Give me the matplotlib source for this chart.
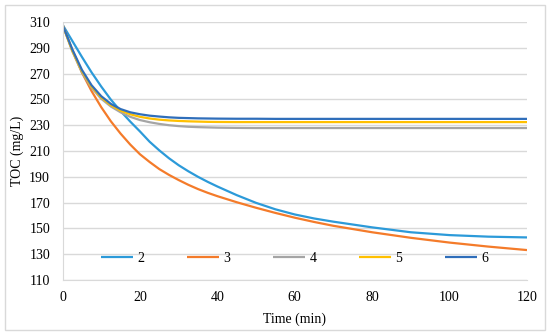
import matplotlib
matplotlib.use("Agg")
import matplotlib.pyplot as plt
from matplotlib.patches import Rectangle

plt.rcParams['font.family'] = ['Liberation Serif', 'DejaVu Serif']

time = [0, 2.5, 5, 7.5, 10, 12.5, 15, 17.5, 20, 22.5, 25, 27.5, 30, 32.5, 35, 37.5, 40,
        45, 50, 55, 60, 65, 70, 80, 90, 100, 110, 120]
s2 = [308, 295.5, 283, 271, 260, 249.8, 241, 232.8, 225.2, 217.2, 210.5, 204.4, 199, 194.3, 190, 186.1, 182.5,
      175.8, 169.8, 164.8, 160.8, 157.7, 155.2, 150.8, 147, 144.8, 143.6, 143]
s3 = [308, 288.5, 271, 256.5, 244, 233, 223.5, 215, 207.5, 201.5, 196, 191.5, 187.5, 183.8, 180.5, 177.6, 175,
      170.3, 166, 162, 158.3, 155, 152, 147, 142.7, 139, 135.9, 133.2]
s4 = [308, 287.5, 271, 259, 250.5, 244.5, 240, 236.5, 234, 232.3, 231, 230, 229.3, 228.8, 228.5, 228.3, 228.1,
      227.9, 227.8, 227.8, 227.8, 227.8, 227.8, 227.8, 227.8, 227.8, 227.8, 227.8]
s5 = [308, 288, 272, 260, 251.5, 245.5, 241.3, 238.5, 236.5, 235.2, 234.3, 233.7, 233.3, 233, 232.8, 232.6, 232.5,
      232.4, 232.4, 232.4, 232.4, 232.4, 232.4, 232.4, 232.4, 232.4, 232.4, 232.4]
s6 = [308, 289, 273, 261, 252.5, 246.5, 242.5, 240, 238.5, 237.4, 236.7, 236.1, 235.7, 235.5, 235.3, 235.2, 235.1,
      235, 235, 234.9, 234.9, 234.9, 234.9, 234.9, 234.9, 234.9, 234.9, 234.9]
series = [s2, s3, s4, s5, s6]
labels = ["2", "3", "4", "5", "6"]
colors = ["#2C9AD9", "#F47B2A", "#A5A5A5", "#FFC000", "#2F6EBA"]
xticks = [0, 20, 40, 60, 80, 100, 120]
yticks = [110, 130, 150, 170, 190, 210, 230, 250, 270, 290, 310]

fig = plt.figure(figsize=(5.5, 3.35), dpi=100)
fig.patches.append(Rectangle((5/550, 5/335), 540/550, 325/335, transform=fig.transFigure,
                             fill=False, edgecolor="#D9D9D9", linewidth=1))
ax = fig.add_axes([62.5/550, 1-280/335, 464.5/550, 258/335])

for y, lab, c in zip(series, labels, colors):
    ax.plot(time, y, color=c, lw=1.6, label=lab, solid_capstyle='butt', solid_joinstyle='round')

ax.set_xlim(0, 120)
ax.set_ylim(110, 310)
ax.set_xticks(xticks)
ax.set_yticks(yticks)
ax.yaxis.grid(True, color="#D9D9D9", lw=1)
ax.set_axisbelow(True)
for s in ["top", "right"]:
    ax.spines[s].set_visible(False)
ax.spines["left"].set_color("#D9D9D9")
ax.spines["bottom"].set_color("#D9D9D9")
ax.tick_params(axis='both', length=0, labelsize=10, colors="#000000")
ax.tick_params(axis='y', pad=9)
ax.tick_params(axis='x', pad=8)
ax.set_xlabel("Time (min)", fontsize=10, labelpad=6)
ax.set_ylabel("TOC (mg/L)", fontsize=10, labelpad=4)

ax.legend(loc='center left', bbox_to_anchor=(0.083, 0.085), ncol=5, frameon=False,
          fontsize=10, handlelength=2.3, handletextpad=0.3, columnspacing=3.1,
          borderpad=0, borderaxespad=0)

fig.savefig("out.png", dpi=100)
